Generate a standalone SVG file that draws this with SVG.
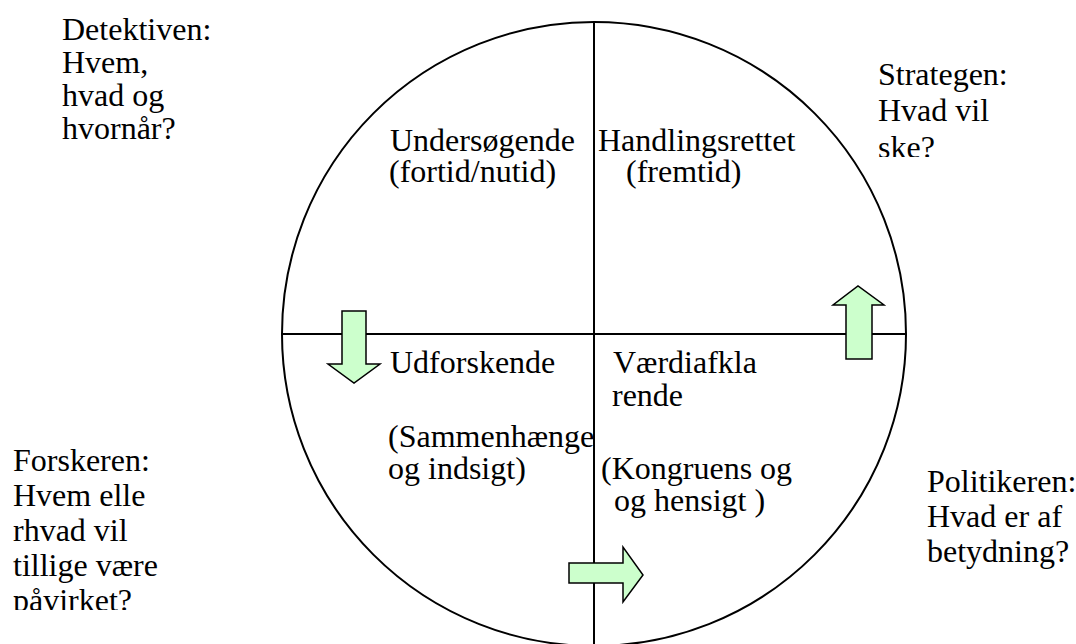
<svg xmlns="http://www.w3.org/2000/svg" width="1076" height="644" viewBox="0 0 1076 644">
<style>
text{font-family:"Liberation Serif","Times New Roman",serif;font-size:32px;fill:#000}
.ln{stroke:#000;stroke-width:2;fill:none}
.arr{fill:#CCFFCC;stroke:#000;stroke-width:1.5;stroke-linejoin:miter}
</style>
<defs>
<clipPath id="clipS"><rect x="860" y="50" width="216" height="107"/></clipPath>
<clipPath id="clipF"><rect x="0" y="430" width="220" height="180"/></clipPath>
</defs>
<rect width="1076" height="644" fill="#fff"/>
<g id="circle">
<circle class="ln" cx="594" cy="334" r="312"/>
</g>
<g id="connectors">
<line class="ln" x1="594" y1="22" x2="594" y2="644"/>
<line class="ln" x1="282" y1="334" x2="906" y2="334"/>
</g>
<g id="arrow-down"><polygon class="arr" points="342,311 366,311 366,364 380,364 354,383 328,364 342,364"/></g>
<g id="arrow-up"><polygon class="arr" points="846,359 872,359 872,305 884,305 858,286 833,305 846,305"/></g>
<g id="arrow-right"><polygon class="arr" points="569,563 623,563 623,547 643,575 623,602 623,583 569,583"/></g>
<g id="detektiven">
<text x="62" y="40">Detektiven:</text>
<text x="62" y="73">Hvem,</text>
<text x="62" y="106">hvad og</text>
<text x="62" y="139">hvornår?</text>
</g>
<g id="strategen" clip-path="url(#clipS)">
<text x="878" y="85">Strategen:</text>
<text x="878" y="121">Hvad vil</text>
<text x="878" y="158">ske?</text>
</g>
<g id="undersoegende">
<text x="390" y="151">Undersøgende</text>
<text x="389" y="182">(fortid/nutid)</text>
</g>
<g id="handlingsrettet">
<text x="598" y="151">Handlingsrettet</text>
<text x="626" y="182">(fremtid)</text>
</g>
<g id="udforskende">
<text x="390" y="373">Udforskende</text>
<text x="388" y="447">(Sammenhænge</text>
<text x="388" y="479">og indsigt)</text>
</g>
<g id="vaerdiafklarende">
<text x="613" y="373">Værdiafkla</text>
<text x="612" y="406">rende</text>
<text x="601" y="479">(Kongruens og</text>
<text x="614" y="511">og hensigt )</text>
</g>
<g id="forskeren" clip-path="url(#clipF)">
<text x="13" y="471">Forskeren:</text>
<text x="13" y="506">Hvem elle</text>
<text x="13" y="541">rhvad vil</text>
<text x="13" y="576">tillige være</text>
<text x="13" y="611">påvirket?</text>
</g>
<g id="politikeren">
<text x="927" y="492">Politikeren:</text>
<text x="927" y="527">Hvad er af</text>
<text x="927" y="562">betydning?</text>
</g>
</svg>
